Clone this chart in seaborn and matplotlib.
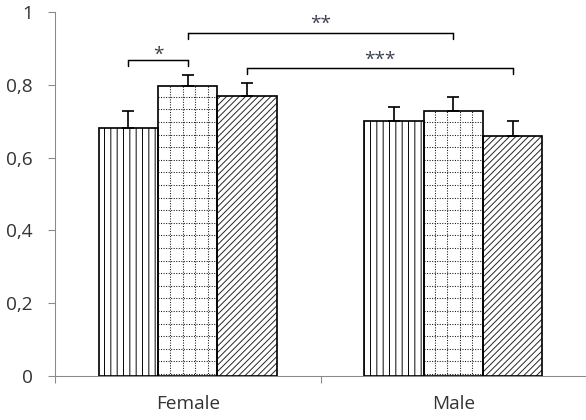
import numpy as np
import pandas as pd
import matplotlib
matplotlib.use("Agg")
import matplotlib.pyplot as plt
import matplotlib.colors as mcolors
import seaborn as sns
from matplotlib.ticker import FixedLocator, FixedFormatter

# ---- data ----
groups = ["Female", "Male"]
conditions = ["A", "B", "C"]
values_female = [0.681, 0.797, 0.770]
values_male = [0.700, 0.729, 0.660]
errors_female = [0.048, 0.030, 0.035]
errors_male = [0.040, 0.037, 0.040]
ytick_values = [0, 0.2, 0.4, 0.6, 0.8, 1.0]
ytick_labels = ["0", "0,2", "0,4", "0,6", "0,8", "1"]
# significance brackets
sig_from = [("Female", "A"), ("Female", "B"), ("Female", "C")]
sig_to = [("Female", "B"), ("Male", "B"), ("Male", "C")]
sig_height = [0.868, 0.942, 0.846]
sig_label_y = [0.869, 0.954, 0.855]
sig_labels = ["*", "**", "***"]

df = pd.DataFrame({
    "group": np.repeat(groups, len(conditions)),
    "cond": conditions * len(groups),
    "value": values_female + values_male,
    "err": errors_female + errors_male,
})

DPI = 76
sns.set_style("white")
plt.rcParams["font.family"] = ["Open Sans", "DejaVu Sans"]
plt.rcParams["hatch.linewidth"] = 0.9

fig = plt.figure(figsize=(586 / DPI, 420 / DPI), dpi=DPI)
ax = fig.add_axes([55 / 586, 1 - 376 / 420, 1 - 55 / 586, (376 - 12) / 420])

sns.barplot(data=df, x="group", y="value", hue="cond", order=groups,
            hue_order=conditions, palette=["white"] * 3, edgecolor="black",
            linewidth=1.6, width=0.672, gap=0, errorbar=None, legend=False,
            saturation=1, ax=ax)

ax.set_xlim(-0.5, 1.5)
ax.set_ylim(0, 1)

hatches = ["||", None, "////"]
hatch_colors = ["black", "black", "#222222"]
# dotted grid pattern: cell size in pixels, converted to data units
cell_px = 12.6
ax_w_px = fig.get_figwidth() * DPI * ax.get_position().width
ax_h_px = fig.get_figheight() * DPI * ax.get_position().height
dx = cell_px * 2.0 / ax_w_px
dy = cell_px / ax_h_px
grid_x_anchor = -0.5 + 115 / ax_w_px * 2.0
grid_y_anchor = 2.0 / ax_h_px

centers = {}
for cond, cont, h, hc in zip(conditions, ax.containers, hatches, hatch_colors):
    for grp, bar in zip(groups, cont):
        bar.set_zorder(2)
        if h is not None:
            bar.set_hatch(h)
            bar.set_edgecolor(hc)
            bar._edgecolor = mcolors.to_rgba("black")
        else:
            x0b, w, hgt = bar.get_x(), bar.get_width(), bar.get_height()
            k0 = np.ceil((x0b - grid_x_anchor) / dx)
            for xv in grid_x_anchor + dx * np.arange(k0, k0 + 40):
                if xv >= x0b + w:
                    break
                ln = ax.plot([xv, xv], [0, hgt], color="#1a1a1a", lw=1.0,
                             linestyle=(0, (1.0, 1.4)), zorder=2.5)[0]
                ln.set_clip_path(bar)
            for yv in np.arange(grid_y_anchor, hgt, dy):
                ln = ax.plot([x0b, x0b + w], [yv, yv], color="#1a1a1a", lw=1.0,
                             linestyle=(0, (1.0, 1.4)), zorder=2.5)[0]
                ln.set_clip_path(bar)
            bar.set_zorder(2.6)
            bar.set_facecolor("none")
        cx = bar.get_x() + bar.get_width() / 2
        centers[(grp, cond)] = cx
        e = df[(df.group == grp) & (df.cond == cond)]["err"].iloc[0]
        ax.errorbar([cx], [bar.get_height()], yerr=[[0], [e]], fmt="none",
                    ecolor="black", elinewidth=1.6, capsize=5.5, capthick=1.6,
                    zorder=3)

leg = 0.016
for f, t, yh, ly, lab in zip(sig_from, sig_to, sig_height, sig_label_y, sig_labels):
    x0, x1 = centers[f], centers[t]
    ax.plot([x0, x0, x1, x1], [yh - leg, yh, yh, yh - leg], color="black",
            lw=1.4, solid_joinstyle="miter", zorder=4)
    ax.text((x0 + x1) / 2, ly, lab, ha="center", va="baseline",
            fontsize=18, color="#3b3f4f", zorder=4)

ax.set_xlabel("")
ax.set_ylabel("")
for s in ["top", "right"]:
    ax.spines[s].set_visible(False)
for s in ["left", "bottom"]:
    ax.spines[s].set_color("#8a8a8a")
    ax.spines[s].set_linewidth(1.0)
ax.spines["bottom"].set_zorder(1)

ax.yaxis.set_major_locator(FixedLocator(ytick_values))
ax.yaxis.set_major_formatter(FixedFormatter(ytick_labels))
ax.tick_params(axis="y", which="major", direction="out", length=7, width=1,
               color="#8a8a8a", labelsize=18, labelcolor="#333333", pad=14,
               left=True)
ax.set_xticks([0, 1])
ax.set_xticklabels(groups)
ax.set_xticks([-0.5, 0.5, 1.5], minor=True)
ax.tick_params(axis="x", which="major", length=0, labelsize=18,
               labelcolor="#333333", pad=18)
ax.tick_params(axis="x", which="minor", direction="out", length=7, width=1,
               color="#8a8a8a", bottom=True)

fig.savefig("out.png", dpi=DPI)
